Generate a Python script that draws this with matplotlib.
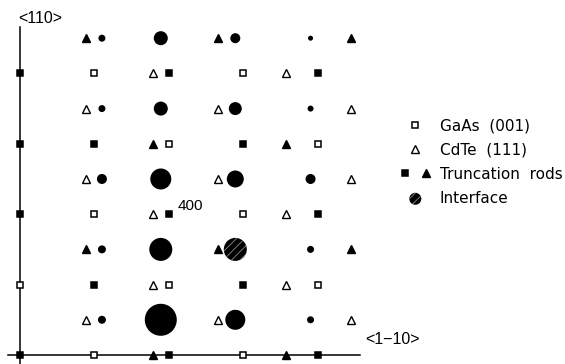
import matplotlib.pyplot as plt
from matplotlib.lines import Line2D
from matplotlib.legend_handler import HandlerTuple

plt.rcParams['hatch.linewidth'] = 0.6

# reciprocal-space map, h along <1-10>, k along <110>
# GaAs (001) rods (open squares)
gaas_h = [1, 3, 2, 4, 1, 3, 0, 2, 4, 1, 3]
gaas_k = [8, 8, 6, 6, 4, 4, 2, 2, 2, 0, 0]

# truncation rods, squares
rod_sq_h = [0, 2, 4, 0, 1, 3, 0, 2, 4, 1, 3, 0, 2, 4]
rod_sq_k = [8, 8, 8, 6, 6, 6, 4, 4, 4, 2, 2, 0, 0, 0]

# CdTe (111) rods (open triangles)
cdte_h = [1.78, 3.57, 0.88, 2.66, 4.44, 0.88, 2.66, 4.44, 1.78, 3.57, 1.78, 3.57, 0.88, 2.66, 4.44]
cdte_k = [8, 8, 7, 7, 7, 5, 5, 5, 4, 4, 2, 2, 1, 1, 1]

# truncation rods, triangles
rod_tri_h = [0.88, 2.66, 4.44, 1.78, 3.57, 0.88, 2.66, 4.44, 1.78, 3.57]
rod_tri_k = [9, 9, 9, 6, 6, 3, 3, 3, 0, 0]

# measured spots, diameter ~ intensity (px)
spot_h = [1.10, 1.89, 2.89, 3.90, 1.10, 1.89, 2.89, 3.90, 1.10, 1.89, 2.89, 3.90,
          1.10, 1.89, 3.90, 1.10, 1.89, 2.89, 3.90]
spot_k = [9, 9, 9, 9, 7, 7, 7, 7, 5, 5, 5, 5, 3, 3, 3, 1, 1, 1, 1]
spot_d = [7, 14, 10, 5, 7, 14, 13, 6, 10, 21, 17, 10, 8, 23, 7, 8, 32, 20, 7]

# interface spot
iface_h = [2.89]
iface_k = [3]
iface_d = [23]

PX = 0.72  # points per pixel at 100 dpi

fig = plt.figure(figsize=(5.65, 3.64), dpi=100)
ax = fig.add_axes([0, 0, 1, 1])
ax.set_xlim(-0.268, 7.315)
ax.set_ylim(-0.256, 10.085)
ax.axis('off')

# axis lines
ax.plot([-0.16, 4.56], [0, 0], color='black', lw=1.1, zorder=1)
ax.plot([0, 0], [-0.26, 9.32], color='black', lw=1.1, zorder=1)

sq = dict(marker='s', ms=5, ls='none', mec='black', mew=1.1, zorder=3)
tri = dict(marker='^', ms=5.3, ls='none', mec='black', mew=1.0, zorder=3)

ax.plot(gaas_h, gaas_k, mfc='white', **sq)
ax.plot(rod_sq_h, rod_sq_k, mfc='black', **sq)
ax.plot(cdte_h, cdte_k, mfc='white', **tri)
ax.plot(rod_tri_h, rod_tri_k, mfc='black', **tri)

ax.scatter(spot_h, spot_k, s=[(d * PX) ** 2 for d in spot_d], c='black', linewidths=0, zorder=2)
ax.scatter(iface_h, iface_k, s=[(d * PX) ** 2 for d in iface_d], c='black',
           edgecolors='#8a8a8a', linewidths=0, hatch='////', zorder=2)

ax.annotate('400', xy=(2, 4), xytext=(6.5, 5.8), textcoords='offset points',
            ha='left', va='center', fontsize=11, family='Liberation Sans')
ax.text(0.27, 9.57, '<110>', ha='center', va='center', fontsize=11.5, family='Liberation Sans')
ax.text(5.0, 0.43, '<1\u221210>', ha='center', va='center', fontsize=11.5, family='Liberation Sans')

# legend
h_gaas = Line2D([], [], mfc='white', **sq)
h_cdte = Line2D([], [], mfc='white', **tri)
h_rsq = Line2D([], [], mfc='black', **sq)
h_rtri = Line2D([], [], mfc='black', **tri)
h_iface = ax.scatter([], [], s=(12 * PX) ** 2, c='black', edgecolors='#8a8a8a',
                     linewidths=0, hatch='////')
h_iface.remove()
ax.legend([h_gaas, h_cdte, (h_rsq, h_rtri), h_iface],
          ['GaAs  (001)', 'CdTe  (111)', 'Truncation  rods', 'Interface'],
          handler_map={tuple: HandlerTuple(ndivide=None, pad=0.8)},
          loc='upper left', bbox_to_anchor=(0.708, 0.675), frameon=False,
          prop={'family': 'DejaVu Sans', 'size': 11},
          handlelength=2.0, handletextpad=0.6, labelspacing=0.6,
          borderpad=0, borderaxespad=0)

fig.savefig('out.png', dpi=100)
